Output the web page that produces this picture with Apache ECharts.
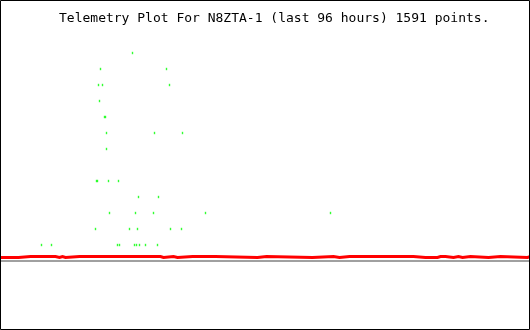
<!DOCTYPE html>
<html>
<head>
<meta charset="utf-8">
<script src="https://cdn.jsdelivr.net/npm/echarts@6/dist/echarts.min.js"></script>
<style>
  html, body { margin: 0; padding: 0; background: #fff; }
  #chart { width: 530px; height: 330px; }
</style>
</head>
<body>
<div id="chart"></div>
<script>
// sample index (0..1590, 1591 points over 96 hours)
var redIdx = [0, 54, 90, 93, 141, 144, 165, 177, 186, 195, 237, 240, 441, 444, 480, 489,
  519, 531, 576, 579, 633, 636, 645, 771, 798, 936, 999, 1017, 1047, 1050, 1152, 1155,
  1230, 1233, 1239, 1275, 1281, 1290, 1296, 1311, 1320, 1326, 1335, 1359, 1374, 1386,
  1410, 1464, 1467, 1470, 1500, 1581, 1590];
var redVal = [0.22, 0.28, 0.22, 0.28, 0.22, 0.28, 0.22, 0.28, 0.22, 0.28, 0.22, 0.28,
  0.22, 0.28, 0.22, 0.28, 0.22, 0.28, 0.22, 0.28, 0.22, 0.28, 0.22, 0.28,
  0.22, 0.28, 0.22, 0.28, 0.22, 0.28, 0.22, 0.28, 0.22, 0.28, 0.22, 0.28,
  0.22, 0.28, 0.22, 0.28, 0.22, 0.28, 0.22, 0.28, 0.22, 0.28, 0.22, 0.28,
  0.22, 0.28, 0.22, 0.28, 0.28];

var greenIdx = [396,
  300, 498,
  294, 306, 507,
  297,
  312, 315,
  318, 462, 546,
  318,
  288, 291, 324, 354,
  414, 474,
  327, 405, 459, 615, 990,
  285, 387, 411, 510, 543,
  123, 153, 351, 357, 402, 408, 417, 435, 471];
var greenVal = [13,
  12, 12,
  11, 11, 11,
  10,
  9, 9,
  8, 8, 8,
  7,
  5, 5, 5, 5,
  4, 4,
  3, 3, 3, 3, 3,
  2, 2, 2, 2, 2,
  1, 1, 1, 1, 1, 1, 1, 1, 1];

var titleText = 'Telemetry Plot For N8ZTA-1 (last 96 hours) 1591 points.';

// build a stepped path: hold each value until the next sample
var redData = [];
redIdx.forEach(function (x, i) {
  if (i > 0 && redVal[i] !== redVal[i - 1]) redData.push([x, redVal[i - 1]]);
  redData.push([x, redVal[i]]);
});

var chart = echarts.init(document.getElementById('chart'));

var option = {
  animation: false,
  backgroundColor: '#ffffff',
  title: {
    text: titleText,
    left: 59,
    top: 12,
    padding: 0,
    textStyle: {
      fontFamily: 'DejaVu Sans Mono',
      fontSize: 13,
      fontWeight: 'normal',
      color: '#000000'
    }
  },
  grid: { left: 0, right: 0, top: 0, bottom: 69 },
  xAxis: {
    type: 'value',
    min: -1.5,
    max: 1588.5,
    splitLine: { show: false },
    axisTick: { show: false },
    axisLabel: { show: false },
    axisLine: { show: true, lineStyle: { color: '#a0a0a0', width: 2 } }
  },
  yAxis: {
    type: 'value',
    min: 0,
    max: 16.3125,
    show: false,
    splitLine: { show: false }
  },
  graphic: [{
    type: 'rect',
    shape: { x: 0.5, y: 0.5, width: 529, height: 329 },
    style: { fill: 'none', stroke: '#000000', lineWidth: 1 },
    z: 100
  }],
  series: [
    {
      type: 'line',
      smooth: false,
      data: redData,
      showSymbol: false,
      lineStyle: { color: '#ff0000', width: 3, join: 'miter', cap: 'butt' },
      z: 3
    },
    {
      type: 'scatter',
      data: greenIdx.map(function (x, i) { return [x, greenVal[i]]; }),
      symbol: 'rect',
      symbolSize: [1.4, 2.4],
      itemStyle: { color: '#00ff00' },
      z: 4
    }
  ]
};

chart.setOption(option);
</script>
</body>
</html>
